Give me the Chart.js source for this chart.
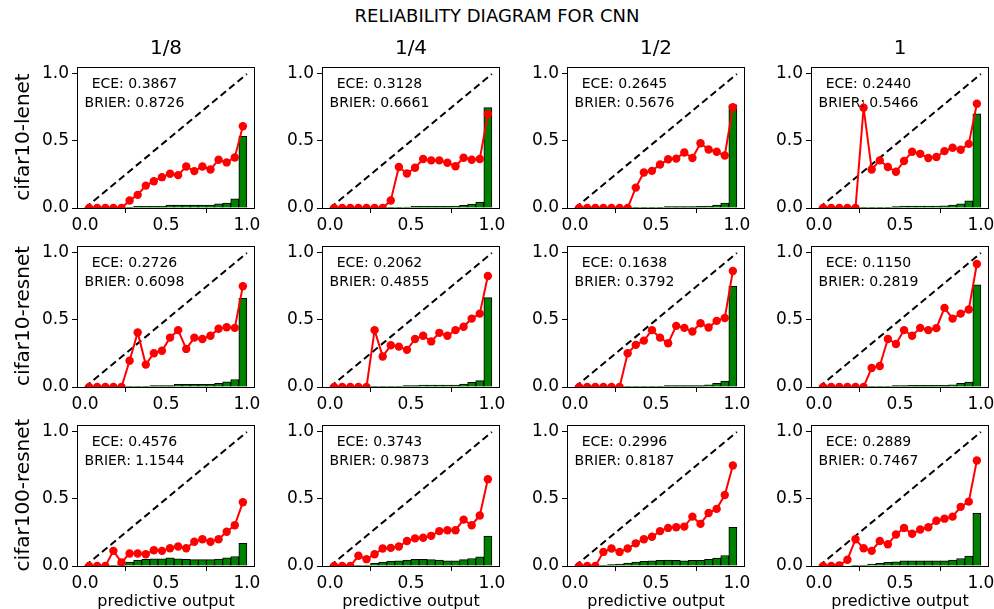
<!DOCTYPE html>
<html>
<head>
<meta charset="utf-8">
<script src="https://cdn.jsdelivr.net/npm/chart.js@4"></script>
<style>
  body { margin: 0; background: #fff; font-family: "DejaVu Sans", sans-serif; }
  #fig { position: relative; width: 994px; height: 609px; overflow: hidden; }
  canvas { position: absolute; }
  .lbl { position: absolute; white-space: nowrap; color: #000; transform: translate(-50%, -50%); }
  .rot { transform: translate(-50%, -50%) rotate(-90deg); }
</style>
</head>
<body>
<div id="fig"></div>
<script>
// bin centres shared by every panel
var binCenters = [0.025, 0.075, 0.125, 0.175, 0.225, 0.275, 0.325, 0.375, 0.425, 0.475,
                  0.525, 0.575, 0.625, 0.675, 0.725, 0.775, 0.825, 0.875, 0.925, 0.975];
var xTicks = [0, 0.5, 1];
var yTicks = [0, 0.5, 1];

var colTitles = ["1/8", "1/4", "1/2", "1"];
var rowTitles = ["cifar10-lenet", "cifar10-resnet", "cifar100-resnet"];

// accuracy (red line) and fraction of samples (green bars), row by row
var acc_lenet_8  = [0, 0, 0, 0, 0, 0.056, 0.098, 0.167, 0.20, 0.23, 0.255, 0.245, 0.31, 0.275, 0.31, 0.287, 0.36, 0.34, 0.377, 0.61];
var frac_lenet_8 = [0, 0, 0, 0, 0, 0.002, 0.012, 0.012, 0.012, 0.012, 0.022, 0.022, 0.022, 0.022, 0.022, 0.022, 0.032, 0.037, 0.069, 0.534];
var acc_lenet_4  = [0, 0, 0, 0, 0, 0, 0, 0.056, 0.306, 0.257, 0.30, 0.365, 0.355, 0.355, 0.338, 0.311, 0.375, 0.36, 0.365, 0.70];
var frac_lenet_4 = [0, 0, 0, 0, 0, 0, 0, 0.002, 0.005, 0.007, 0.012, 0.012, 0.012, 0.012, 0.012, 0.015, 0.02, 0.029, 0.044, 0.748];
var acc_lenet_2  = [0, 0, 0, 0, 0, 0, 0, 0.152, 0.265, 0.277, 0.324, 0.363, 0.368, 0.414, 0.373, 0.483, 0.436, 0.419, 0.392, 0.752];
var frac_lenet_2 = [0, 0, 0, 0, 0, 0, 0, 0.002, 0.005, 0.005, 0.005, 0.01, 0.01, 0.01, 0.01, 0.012, 0.015, 0.022, 0.037, 0.77];
var acc_lenet_1  = [0, 0, 0, 0, 0, 0.748, 0.287, 0.355, 0.306, 0.27, 0.35, 0.42, 0.404, 0.373, 0.38, 0.424, 0.449, 0.434, 0.478, 0.777];
var frac_lenet_1 = [0, 0, 0, 0, 0, 0.002, 0.005, 0.005, 0.005, 0.01, 0.015, 0.015, 0.015, 0.015, 0.015, 0.017, 0.022, 0.032, 0.054, 0.703];

var acc_resnet_8  = [0, 0, 0, 0, 0, 0.196, 0.407, 0.167, 0.252, 0.27, 0.368, 0.424, 0.284, 0.368, 0.358, 0.382, 0.434, 0.446, 0.441, 0.752];
var frac_resnet_8 = [0, 0, 0, 0, 0, 0.002, 0.005, 0.005, 0.01, 0.01, 0.01, 0.02, 0.02, 0.02, 0.02, 0.02, 0.027, 0.039, 0.056, 0.662];
var acc_resnet_4  = [0, 0, 0, 0, 0, 0.424, 0.228, 0.311, 0.301, 0.277, 0.358, 0.382, 0.34, 0.404, 0.382, 0.424, 0.449, 0.51, 0.547, 0.828];
var frac_resnet_4 = [0, 0, 0, 0, 0, 0.002, 0.005, 0.005, 0.005, 0.01, 0.01, 0.015, 0.015, 0.015, 0.015, 0.015, 0.022, 0.034, 0.047, 0.667];
var acc_resnet_2  = [0, 0, 0, 0, 0, 0, 0.252, 0.314, 0.346, 0.424, 0.368, 0.326, 0.456, 0.441, 0.414, 0.475, 0.444, 0.493, 0.515, 0.865];
var frac_resnet_2 = [0, 0, 0, 0, 0, 0, 0.002, 0.002, 0.005, 0.005, 0.005, 0.01, 0.01, 0.01, 0.01, 0.01, 0.017, 0.027, 0.044, 0.75];
var acc_resnet_1  = [0, 0, 0, 0, 0, 0, 0.142, 0.157, 0.358, 0.321, 0.424, 0.382, 0.441, 0.424, 0.439, 0.59, 0.51, 0.547, 0.578, 0.917];
var frac_resnet_1 = [0, 0, 0, 0, 0, 0, 0.002, 0.005, 0.005, 0.01, 0.01, 0.012, 0.012, 0.012, 0.012, 0.012, 0.017, 0.027, 0.037, 0.762];

var acc_c100_8  = [0, 0, 0, 0.113, 0.027, 0.093, 0.093, 0.088, 0.118, 0.113, 0.132, 0.145, 0.132, 0.181, 0.20, 0.181, 0.20, 0.255, 0.304, 0.475];
var frac_c100_8 = [0, 0, 0, 0.005, 0.01, 0.03, 0.044, 0.049, 0.054, 0.054, 0.061, 0.054, 0.049, 0.047, 0.047, 0.047, 0.051, 0.061, 0.071, 0.169];
var acc_c100_4  = [0, 0, 0, 0.076, 0.051, 0.088, 0.13, 0.135, 0.145, 0.186, 0.206, 0.211, 0.225, 0.26, 0.267, 0.267, 0.346, 0.304, 0.377, 0.647];
var frac_c100_4 = [0, 0, 0, 0.002, 0.007, 0.02, 0.03, 0.037, 0.039, 0.044, 0.049, 0.049, 0.047, 0.044, 0.039, 0.039, 0.047, 0.056, 0.069, 0.223];
var acc_c100_2  = [0, 0, 0, 0.105, 0.13, 0.105, 0.13, 0.169, 0.199, 0.218, 0.26, 0.284, 0.289, 0.294, 0.368, 0.314, 0.395, 0.426, 0.529, 0.75];
var frac_c100_2 = [0, 0, 0, 0.005, 0.01, 0.015, 0.022, 0.03, 0.034, 0.039, 0.042, 0.044, 0.042, 0.039, 0.042, 0.042, 0.049, 0.059, 0.078, 0.289];
var acc_c100_1  = [0, 0, 0.005, 0.047, 0.199, 0.132, 0.113, 0.186, 0.162, 0.235, 0.284, 0.24, 0.272, 0.289, 0.338, 0.353, 0.368, 0.441, 0.48, 0.787];
var frac_c100_1 = [0, 0, 0, 0, 0.005, 0.007, 0.015, 0.02, 0.027, 0.032, 0.039, 0.039, 0.039, 0.039, 0.039, 0.039, 0.044, 0.056, 0.074, 0.392];

var eceValues   = [["0.3867", "0.3128", "0.2645", "0.2440"],
                   ["0.2726", "0.2062", "0.1638", "0.1150"],
                   ["0.4576", "0.3743", "0.2996", "0.2889"]];
var brierValues = [["0.8726", "0.6661", "0.5676", "0.5466"],
                   ["0.6098", "0.4855", "0.3792", "0.2819"],
                   ["1.1544", "0.9873", "0.8187", "0.7467"]];

var accs  = [[acc_lenet_8, acc_lenet_4, acc_lenet_2, acc_lenet_1],
             [acc_resnet_8, acc_resnet_4, acc_resnet_2, acc_resnet_1],
             [acc_c100_8, acc_c100_4, acc_c100_2, acc_c100_1]];
var fracs = [[frac_lenet_8, frac_lenet_4, frac_lenet_2, frac_lenet_1],
             [frac_resnet_8, frac_resnet_4, frac_resnet_2, frac_resnet_1],
             [frac_c100_8, frac_c100_4, frac_c100_2, frac_c100_1]];

// layout of the axes boxes in the figure
var colLeft = [77, 322, 567, 811];
var rowTop = [66, 245, 424];
var axW = 178, axH = 142;
var padL = 60, padT = 12, padR = 16, padB = 34;

Chart.defaults.font.family = "'DejaVu Sans'";
Chart.defaults.color = "#000";

var fig = document.getElementById("fig");

function addLabel(text, x, y, size, cls) {
  var d = document.createElement("div");
  d.className = "lbl" + (cls ? " " + cls : "");
  d.style.left = x + "px";
  d.style.top = y + "px";
  d.style.fontSize = size + "px";
  d.textContent = text;
  fig.appendChild(d);
}

function toPoints(xs, ys) {
  return xs.map(function (x, i) { return {x: x, y: ys[i]}; });
}

var framePlugin = {
  id: "frame",
  afterDatasetsDraw: function (chart, args, opts) {
    var ctx = chart.ctx, a = chart.chartArea;
    var xs = chart.scales.x, ys = chart.scales.y;
    ctx.save();
    ctx.strokeStyle = "#000";
    ctx.lineWidth = 1;
    ctx.strokeRect(Math.round(a.left) + 0.5, Math.round(a.top) + 0.5,
                   Math.round(a.right - a.left) - 1, Math.round(a.bottom - a.top));
    ctx.fillStyle = "#000";
    ctx.font = "14px 'DejaVu Sans'";
    ctx.textAlign = "center";
    ctx.textBaseline = "middle";
    ctx.fillText("ECE: " + opts.ece, xs.getPixelForValue(0.305), ys.getPixelForValue(0.92));
    ctx.fillText("BRIER: " + opts.brier, xs.getPixelForValue(0.305), ys.getPixelForValue(0.78));
    ctx.restore();
  }
};

function fixTicks(values) {
  return function (scale) {
    scale.ticks = values.map(function (v) { return {value: v}; });
  };
}

for (var r = 0; r < 3; r++) {
  for (var c = 0; c < 4; c++) {
    var cv = document.createElement("canvas");
    var w = axW + padL + padR, h = axH + padT + padB;
    cv.width = w; cv.height = h;
    cv.style.left = (colLeft[c] - padL) + "px";
    cv.style.top = (rowTop[r] - padT) + "px";
    cv.style.width = w + "px"; cv.style.height = h + "px";
    fig.appendChild(cv);

    new Chart(cv, {
      type: "bar",
      data: {
        datasets: [{
          type: "line",
          data: toPoints(binCenters, accs[r][c]),
          borderColor: "#ff0000",
          backgroundColor: "#ff0000",
          borderWidth: 2,
          pointRadius: 4.2,
          pointBorderWidth: 0,
          order: 1
        }, {
          type: "line",
          data: [{x: 0, y: 0}, {x: 1, y: 1}],
          borderColor: "#000",
          borderWidth: 2,
          borderDash: [7, 4],
          pointRadius: 0,
          order: 2
        }, {
          type: "bar",
          data: toPoints(binCenters, fracs[r][c]),
          backgroundColor: "#008000",
          borderColor: "#000",
          borderWidth: 1,
          barPercentage: 1,
          categoryPercentage: 1,
          order: 3
        }]
      },
      options: {
        responsive: false,
        animation: false,
        devicePixelRatio: 1,
        layout: {padding: {left: 0, top: padT, right: padR, bottom: 0}},
        plugins: {
          legend: {display: false},
          tooltip: {enabled: false},
          frame: {ece: eceValues[r][c], brier: brierValues[r][c]}
        },
        scales: {
          x: {
            type: "linear",
            min: -0.05, max: 1.05,
            offset: false,
            afterBuildTicks: fixTicks(xTicks),
            afterFit: function (s) { s.height = padB; },
            grid: {drawOnChartArea: false, drawTicks: true, tickLength: 5, color: "#000"},
            border: {display: false},
            ticks: {font: {size: 17}, padding: 2, maxRotation: 0,
                    callback: function (v) { return v.toFixed(1); }}
          },
          y: {
            type: "linear",
            min: 0, max: 1.05,
            afterBuildTicks: fixTicks(yTicks),
            afterFit: function (s) { s.width = padL; },
            grid: {drawOnChartArea: false, drawTicks: true, tickLength: 5, color: "#000"},
            border: {display: false},
            ticks: {font: {size: 17}, padding: 3,
                    callback: function (v) { return v.toFixed(1); }}
          }
        }
      },
      plugins: [framePlugin]
    });
  }
}

// figure texts
addLabel("RELIABILITY DIAGRAM FOR CNN", 497, 15, 18);
for (var c = 0; c < 4; c++) {
  addLabel(colTitles[c], colLeft[c] + axW / 2, 47, 20);
  addLabel("predictive output", colLeft[c] + axW / 2, 600, 16);
}
for (var r = 0; r < 3; r++) {
  addLabel(rowTitles[r], 22, rowTop[r] + axH / 2, 20, "rot");
}
</script>
</body>
</html>
